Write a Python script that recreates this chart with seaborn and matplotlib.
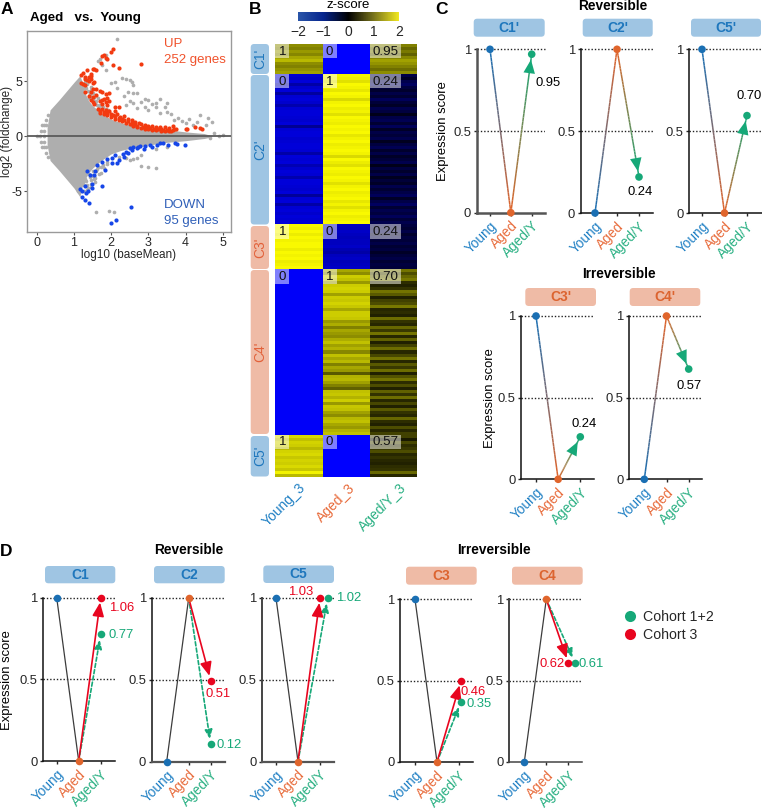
import numpy as np
import pandas as pd
import matplotlib
matplotlib.use("Agg")
import matplotlib.pyplot as plt
import seaborn as sns
from matplotlib.collections import LineCollection
from matplotlib.colors import LinearSegmentedColormap, to_rgb
from matplotlib.lines import Line2D
from matplotlib.patches import FancyBboxPatch, Rectangle

# ---------- panel A data ----------
cloud_x = [.28,.36,.6,.8,1.0,1.16,1.22,1.3,1.4,1.5,1.6,1.7,1.8,2,2.25,2.5,2.75,3,3.5,4,4.5,4.7]
cloud_upper = [.8,2.4,3.3,4.1,4.9,5.5,5.0,3.9,3.2,2.8,2.5,2.2,1.95,1.55,1.25,1.05,.88,.75,.6,.4,.25,.05]
cloud_lower = [-.8,-2.2,-3.1,-3.9,-4.7,-5.5,-4.6,-3.9,-3.3,-2.9,-2.6,-2.3,-2.05,-1.6,-1.3,-1.1,-.95,-.8,-.55,-.4,-.2,-.05]
gray_x = [2.17,1.65,1.7,1.85,1.85,1.75,2.3,2.4,2.5,2.55,2.6,2.0,2.1,2.15,2.45,2.6,2.7,2.35,2.9,3.0,3.2,3.3,3.1,3.5,3.45,3.2,2.5,2.6,2.8,2.9,2.7,2.4,3.0,3.3,3.5,3.6,3.8,3.9,4.0,4.1,4.4,4.6,4.7,3.7,4.2,4.3,4.55,4.75,5.0,4.9,4.65,
          2.8,3.0,3.2,2.5,2.6,2.7,2.8,2.4,1.55,1.6,1.95,2.07,3.2,3.5,1.9,2.2,
          0.0,0.1,0.2,0.12,0.2,0.15,0.2,0.25,0.12,0.2,0.15,0.2,0.25,0.25,0.3,0.3,0.25,1.3,1.45,1.55,1.25,1.35,1.1,1.5,1.3,1.6,1.45,1.55,
          1.28,1.33,1.38,1.42,1.48,1.52,1.58,1.62,1.68,1.72,1.3,1.35,1.4,1.45,1.5,1.55,1.6,1.65,1.7,1.78,1.85,1.92,
          1.28,1.33,1.38,1.42,1.47,1.52,1.57,1.62,1.67,1.72,1.78,1.28,1.34,1.4,1.46,1.52,1.58,1.65,1.72,1.8,1.88]
gray_y = [8.8,6.8,7.0,7.4,6.0,6.5,5.3,5.2,5.1,4.9,4.7,4.8,4.9,4.4,4.0,3.9,3.9,3.7,3.4,3.3,3.0,3.4,2.9,3.0,2.7,2.7,3.2,3.0,3.1,2.7,2.6,2.8,2.4,2.1,2.2,2.0,1.7,1.4,1.2,1.6,1.9,1.7,1.3,1.5,1.0,1.3,1.0,0.3,0.1,0.05,-0.2,
          -2.7,-2.8,-2.9,-2.2,-2.1,-2.0,-1.7,-2.0,-3.9,-6.9,-6.8,-6.9,-1.2,-1.0,-2.5,-1.9,
          0,0,0,.5,.5,1,1,1,-.5,-.5,-1,-1,-1,1.5,1.9,-1.9,-1.5,4.4,4.2,3.6,-4.2,-4.4,-5.0,-3.6,-3.9,-3.2,-4.0,-3.6,
          4.6,4.35,4.15,3.85,3.55,3.35,3.05,2.85,2.7,2.5,4.9,4.75,3.45,4.5,3.9,3.6,3.2,3.45,2.85,2.65,2.5,2.35,
          -4.4,-4.1,-4.7,-3.7,-4.3,-3.5,-3.8,-3.0,-3.4,-2.8,-2.6,-5.0,-4.85,-3.45,-4.6,-3.15,-4.15,-2.75,-3.3,-2.9,-2.3]
up_x = [2.05,2.0,1.8,1.75,1.85,1.72,1.88,2.05,2.2,2.8,
        1.2,1.25,1.3,1.35,1.45,1.5,1.55,1.6,1.4,1.45,1.3,1.35,1.4,1.45,1.2,1.25,1.3,1.5,1.55,
        1.3,1.45,1.5,1.6,1.7,1.75,1.4,1.5,1.6,1.85,1.95,1.45,1.5,1.55,1.7,1.75,1.8,1.9,1.85,1.95,1.75,1.9,2.1,2.2,2.1,
        1.65,1.7,1.75,1.8,1.85,1.9,1.95,2.0,2.05,2.1,2.15,2.2,2.25,2.3,1.7,1.8,1.9,2.0,2.1,2.2,2.3,2.35,2.4,2.45,2.5,2.55,2.6,2.65,
        2.35,2.45,2.55,2.65,2.7,2.75,2.8,2.85,2.9,2.95,3.0,3.05,3.1,3.15,3.2,3.25,3.3,2.6,2.7,2.8,2.9,3.0,3.1,3.2,
        3.35,3.4,3.45,3.5,3.55,3.6,3.65,3.7,3.75,3.35,3.45,3.55,3.65,4.0,4.05,4.25,4.4,4.45]
up_y = [7.95,7.7,7.35,7.3,7.1,6.7,7.0,6.5,6.2,6.55,
        5.6,5.75,5.4,6.0,5.7,6.15,6.1,6.0,5.4,5.5,5.2,5.1,5.0,5.25,4.8,4.75,4.7,4.85,4.9,
        4.0,4.05,4.3,4.3,4.1,4.0,3.7,3.6,3.75,3.8,3.9,3.3,3.1,2.95,3.2,3.3,3.4,3.5,3.1,3.2,2.9,2.8,2.7,2.7,2.3,
        2.5,2.3,2.45,2.2,2.4,2.1,2.3,2.0,1.9,1.85,2.0,1.7,1.75,1.6,2.1,2.0,1.9,1.75,1.6,1.5,1.35,1.8,1.25,1.6,1.1,1.45,1.05,1.3,
        1.5,1.4,1.25,1.15,0.95,1.2,1.1,0.85,1.05,0.8,0.95,0.75,0.9,0.7,0.85,0.65,0.8,0.95,0.85,0.75,0.65,0.65,0.6,0.55,
        0.7,0.55,0.85,0.6,0.75,0.5,0.9,0.65,0.7,0.5,0.45,0.45,0.55,0.65,0.7,0.8,0.75,0.7]
down_x = [1.16,1.21,1.21,1.3,1.33,1.39,1.3,1.4,1.48,1.48,1.75,1.36,1.42,1.57,1.61,1.54,1.84,1.75,1.88,2.02,2.1,2.02,2.15,2.22,2.31,2.35,2.4,2.46,2.51,2.6,2.69,2.78,2.87,2.91,3.05,3.09,3.23,3.3,3.4,3.54,3.72,3.76,3.99,2.55,2.73,2.54,2.0,2.12]
down_y = [-4.8,-5.0,-5.5,-4.5,-5.2,-5.0,-5.8,-6.1,-4.3,-4.7,-4.5,-3.2,-3.5,-3.2,-2.6,-3.5,-3.05,-2.3,-2.1,-2.0,-1.7,-2.45,-2.45,-2.15,-1.6,-1.85,-1.4,-1.55,-1.03,-0.95,-1.1,-0.85,-1.15,-0.85,-0.8,-0.95,-0.8,-0.65,-0.65,-0.8,-0.65,-0.7,-0.75,-1.25,-1.0,-6.4,-7.85,-7.6]

# ---------- panel B data (z-scores, five clusters, three columns) ----------
heat_columns = ["Young_3", "Aged_3", "Aged/Y_3"]
c1h_young = [1.1,1.0,1.2,1.05,1.3,1.45,1.1,1.0,1.15,1.25]
c1h_aged = [-2.0]*10
c1h_ay = [1.0,0.8,0.95,0.75,1.05,1.25,1.15,1.0,0.85,1.1]
c2h_young = [-1.65,-1.55,-1.7,-1.3,-1.6,-1.7,-1.25,-1.65,-1.7,-1.6,-1.35,-1.65,-1.7,-1.7,-1.65,-1.6,-1.7,-1.15,-1.65,-1.7,-1.7,-1.6,-1.65,-1.7,-1.7,-1.65,-1.3,-1.7,-1.65,-1.7,-1.4,-1.6,-1.7,-1.65,-1.35,-1.7,-1.7,-1.65,-1.6,-1.7,-1.2,-1.65,-1.7,-1.3,-1.65,-1.7,-1.6,-1.7,-1.65,-1.7]
c2h_aged = [1.9,1.85,1.75,1.95,1.9,1.8,1.95,1.9,1.7,1.9,1.95,1.85,1.9,1.75,1.95,1.9,1.85,1.95,1.9,1.95,1.8,1.9,1.95,1.85,1.9,1.95,1.9,1.7,1.95,1.85,1.75,1.95,1.9,1.85,1.95,1.9,1.75,1.9,1.95,1.85,1.9,1.95,1.8,1.9,1.75,1.9,1.95,1.85,1.9,1.95]
c2h_ay = [-.55,-.3,-.6,-.75,-.5,-.35,-.55,-.4,-.7,-.45,-.3,-.6,-.5,-.2,-.55,-.65,-.4,-.7,-.3,-.55,-.45,-.6,-.25,-.5,-.65,-.35,-.55,-.3,-.45,-.6,-.2,-.5,-.35,-.55,-.25,-.45,-.3,-.6,-.4,-.55,-.7,-.3,-.55,-.75,-.4,-.6,-.5,-.7,-.45,-.6]
c3h_young = [1.95,1.9,1.95,1.85,1.95,1.9,1.95,1.95,1.85,1.95,1.9,1.95,1.85,1.9,1.95]
c3h_aged = [-1.5,-1.45,-1.55,-1.5,-1.45,-1.5,-1.5,-1.55,-1.4,-1.3,-1.5,-1.55,-1.45,-1.5,-1.55]
c3h_ay = [-.5,-.4,-.55,-.35,-.5,-.45,-.55,-.4,-.5,-.3,-.45,-.55,-.4,-.5,-.45]
c4h_young = [-1.95]*55
c4h_aged = [1.3,1.1,1.6,1.5,1.2,1.6,1.65,1.6,1.25,1.6,1.55,1.65,1.55,1.3,1.6,1.6,1.55,1.2,1.35,1.0,1.3,1.2,1.1,1.35,1.5,1.25,1.4,1.05,1.5,1.3,1.45,1.0,1.3,1.2,0.7,1.4,1.45,1.25,1.0,0.75,1.5,1.55,1.4,1.6,1.2,1.55,1.5,1.25,1.1,1.45,1.5,1.3,1.2,1.4,1.5]
c4h_ay = [.9,.6,.8,.95,.35,.25,.4,.9,.7,.25,.5,.6,.95,.3,.35,.25,.85,.4,.3,.8,.45,.9,.3,.75,.25,.5,.85,.3,.55,.9,.3,.7,.45,.85,.25,.65,.9,.35,.6,.25,.75,.4,.85,.3,.55,.25,.7,.4,.3,.8,.35,.25,.6,.3,.5]
c5h_young = [1.7,1.5,1.65,1.6,1.45,1.65,1.7,1.55,1.65,1.6,1.7,1.55,1.9,1.45]
c5h_aged = [-2.0]*14
c5h_ay = [.5,.2,.55,.35,.45,.6,.3,.4,.3,.25,.35,.4,.8,.3]
cluster_names = ["C1'", "C2'", "C3'", "C4'", "C5'"]
cluster_annot = [["1","0","0.95"], ["0","1","0.24"], ["1","0","0.24"], ["0","1","0.70"], ["1","0","0.57"]]
cbar_ticks = [-2, -1, 0, 1, 2]

# ---------- panel C / D data ----------
stage_labels = ["Young", "Aged", "Aged/Y"]
score_c1 = [1, 0, 0.97]
score_c2 = [0, 1, 0.22]
score_c5 = [1, 0, 0.595]
score_c3 = [1, 0, 0.26]
score_c4 = [0, 1, 0.675]
base_d1 = [1, 0]
base_d2 = [0, 1]
base_d5 = [1, 0]
base_d3 = [1, 0]
base_d4 = [0, 1]
red_d = [1.0, 0.495, 1.0, 0.5, 0.61]
green_d = [0.775, 0.105, 1.0, 0.37, 0.61]
red_xpos = [2.0, 2.0, 2.0, 2.09, 2.0]
green_xpos = [2.0, 2.0, 2.35, 2.09, 2.3]

BLUE, ORANGE, GREEN, RED = "#1a6fb3", "#e0652c", "#16a878", "#e8051f"
BOX_BLUE, BOX_SALMON = "#9fc5e3", "#efbba6"
TXT_BLUE, TXT_ORANGE = "#1f77bd", "#dc6430"
TICK_COLORS = ["#2080c4", "#e86c3c", "#2ab083"]

W, H = 762, 809
sns.set_theme(style="ticks")
plt.rcParams["font.family"] = ["Liberation Sans", "DejaVu Sans"]
plt.rcParams["axes.unicode_minus"] = True
fig = plt.figure(figsize=(W / 100, H / 100), dpi=100, facecolor="white")


def add_ax(l, t, r, b):
    return fig.add_axes([l / W, 1 - b / H, (r - l) / W, (b - t) / H])


over = fig.add_axes([0, 0, 1, 1], zorder=20)
over.set_xlim(0, W)
over.set_ylim(H, 0)
over.axis("off")
over.patch.set_alpha(0)


def ptext(x, y, s, size=10, color="black", **kw):
    kw.setdefault("ha", "center")
    kw.setdefault("va", "center")
    over.text(x, y, s, fontsize=size, color=color, **kw)


def pill(l, t, r, b, face, label=None, color=None, vertical=False):
    over.add_patch(FancyBboxPatch((l + 2.5, t + 2.5), r - l - 5, b - t - 5,
                                  boxstyle="round,pad=2.5,rounding_size=3.5",
                                  facecolor=face, edgecolor="none"))
    if label:
        ptext((l + r) / 2, (t + b) / 2, label, size=10, color=color,
              rotation=90 if vertical else 0, fontweight="normal" if vertical else "bold")


# ---------- panel letters / titles ----------
for x, y, s in [(7, 9, "A"), (255, 9, "B"), (441, 9, "C"), (6, 551, "D")]:
    ptext(x, y, s, size=12.5, fontweight="bold")
ptext(30, 18, "Aged   vs.  Young", size=9.6, fontweight="bold", ha="left")
ptext(612.5, 6, "Reversible", size=9.8, fontweight="bold")
ptext(619, 274, "Irreversible", size=9.8, fontweight="bold")
ptext(188.5, 550, "Reversible", size=9.8, fontweight="bold")
ptext(494, 550, "Irreversible", size=9.8, fontweight="bold")

# ---------- panel A ----------
axA = add_ax(27, 31, 231, 232)
GRAY = "#aeaeae"
axA.fill_between(cloud_x, cloud_lower, cloud_upper, color=GRAY, lw=0, zorder=1)
sns.scatterplot(x=gray_x, y=gray_y, color=GRAY, s=7, linewidth=0, ax=axA, zorder=2)
sns.scatterplot(x=up_x, y=up_y, color="#f23a10", s=9, linewidth=0, ax=axA, zorder=3)
sns.scatterplot(x=down_x, y=down_y, color="#1646e8", s=9, linewidth=0, ax=axA, zorder=3)
axA.axhline(0, color="#5a5a5a", lw=1.3, zorder=4)
axA.set_xlim(-0.26, 5.22)
axA.set_ylim(-8.7, 9.57)
axA.set_xticks([0, 1, 2, 3, 4, 5])
axA.set_yticks([-5, 0, 5])
axA.set_yticklabels(["-5", "0", "5"])
axA.tick_params(labelsize=9, length=2.5, width=0.8, color="#555555", pad=1)
for s in axA.spines.values():
    s.set_color("#9a9a9a")
    s.set_linewidth(1.0)
axA.set_xlabel("log10 (baseMean)", fontsize=8.5, labelpad=0)
axA.set_ylabel("log2 (foldchange)", fontsize=8.5)
axA.yaxis.set_label_coords(-0.07, 0.5)
ptext(164, 44, "UP", size=9.5, color="#f0522c", ha="left")
ptext(164, 60, "252 genes", size=9.5, color="#f0522c", ha="left")
ptext(164, 205, "DOWN", size=9.5, color="#2f5fb8", ha="left")
ptext(164, 221, "95 genes", size=9.5, color="#2f5fb8", ha="left")

# ---------- panel B ----------
young = c1h_young + c2h_young + c3h_young + c4h_young + c5h_young
aged = c1h_aged + c2h_aged + c3h_aged + c4h_aged + c5h_aged
aged_y = c1h_ay + c2h_ay + c3h_ay + c4h_ay + c5h_ay
heat = pd.DataFrame({heat_columns[0]: young, heat_columns[1]: aged, heat_columns[2]: aged_y})
cmap = LinearSegmentedColormap.from_list("bky", ["#0000ff", "#000000", "#ffff00"])
bar_cmap = LinearSegmentedColormap.from_list("bar", ["#2a55a8", "#06258e", "#000000", "#77731c", "#efe620"])
axB = add_ax(275.3, 44, 417, 476.7)
axC = add_ax(298, 11.7, 398.7, 21)
sns.heatmap(heat, cmap=cmap, vmin=-2, vmax=2, ax=axB, cbar_ax=axC,
            cbar_kws={"orientation": "horizontal", "ticks": cbar_ticks}, yticklabels=False)
cb = axB.collections[0].colorbar
cb.solids.set_cmap(bar_cmap)
cb.outline.set_visible(False)
axC.tick_params(length=0, labelsize=10, pad=3)
ptext(348, 5, "z-score", size=9.5)
axB.set_xticks([0.48, 1.54, 2.62])
axB.set_xticklabels(heat_columns, rotation=45, ha="right", rotation_mode="anchor", fontsize=10)
axB.tick_params(axis="x", length=0, pad=3)
for lab, c in zip(axB.get_xticklabels(), TICK_COLORS):
    lab.set_color(c)
sizes = [len(c1h_young), len(c2h_young), len(c3h_young), len(c4h_young), len(c5h_young)]
px_row = (476.7 - 44) / len(young)
start = 0
pill_limits = [(44, 74), (75, 224.5), (226, 269), (270, 434), (436, 476.5)]
pill_faces = [BOX_BLUE, BOX_BLUE, BOX_SALMON, BOX_SALMON, BOX_BLUE]
pill_txt = [TXT_BLUE, TXT_BLUE, "#e2613a", "#e2613a", TXT_BLUE]
for name, n, ann, lim, f, tc in zip(cluster_names, sizes, cluster_annot, pill_limits, pill_faces, pill_txt):
    pill(250.7, lim[0], 269, lim[1], f, name, tc, vertical=True)
    for col, t in enumerate(ann):
        wid = (14 if len(t) == 1 else 31) / 47.2
        axB.add_patch(Rectangle((col, start), wid, 14.3 / px_row, facecolor="white", alpha=0.5, edgecolor="none"))
        axB.text(col + wid / 2, start + 7.6 / px_row, t, ha="center", va="center", fontsize=9.6, color="#111111")
    start += n


# ---------- small panels ----------
def grad_line(ax, p0, p1, c0, c1, lw=1.1):
    n = 40
    xs = np.linspace(p0[0], p1[0], n + 1)
    ys = np.linspace(p0[1], p1[1], n + 1)
    segs = np.stack([np.c_[xs[:-1], ys[:-1]], np.c_[xs[1:], ys[1:]]], axis=1)
    c0, c1 = np.array(to_rgb(c0)), np.array(to_rgb(c1))
    t = np.linspace(0, 1, n)[:, None]
    ax.add_collection(LineCollection(segs, colors=c0 * (1 - t) + c1 * t, linewidths=lw, zorder=3, clip_on=False))


def arrow(ax, p0, p1, color, ls="-", lw=1.4, shrink=3.5, scale=10, zorder=4):
    ax.annotate("", xy=p1, xytext=p0, annotation_clip=False, zorder=zorder,
                arrowprops=dict(arrowstyle="-|>,head_length=0.75,head_width=0.32", mutation_scale=scale,
                                shrinkA=0, shrinkB=shrink, color=color, lw=lw, ls=ls))


def base_axes(l, r, t, b, t0, t2, lw_left=1.1, lw_bot=1.1, c_left="#111111", c_bot="#111111"):
    ax = add_ax(l, t, r, b)
    s = (t2 - t0) / 2
    ax.set_xlim((l - t0) / s, (r - t0) / s)
    ax.set_ylim(0, 1)
    ax.patch.set_alpha(0)
    sns.despine(ax=ax)
    ax.spines["left"].set_linewidth(lw_left)
    ax.spines["bottom"].set_linewidth(lw_bot)
    ax.spines["left"].set_color(c_left)
    ax.spines["bottom"].set_color(c_bot)
    ax.axhline(0.5, color="#222222", lw=1.0, ls=(0, (1, 1.4)), zorder=1)
    ax.axhline(1.0, color="#222222", lw=1.0, ls=(0, (1, 1.4)), zorder=1, clip_on=False)
    ax.set_yticks([0, 0.5, 1])
    ax.set_yticklabels(["0", "0.5", "1"])
    ax.set_xticks([0, 1, 2])
    ax.set_xticklabels(stage_labels, rotation=45, ha="right", rotation_mode="anchor", fontsize=9.8)
    for lab, c in zip(ax.get_xticklabels(), TICK_COLORS):
        lab.set_color(c)
    ax.tick_params(axis="y", labelsize=9.4, length=2.5, width=1, pad=1.5)
    ax.tick_params(axis="x", length=2.5, width=1, pad=2)
    return ax


def panel_c(box, l, r, t, b, t0, t2, score, name, fc, tc, **kw):
    pill(box[0], box[1], box[2], box[3], fc, name, tc)
    ax = base_axes(l, r, t, b, t0, t2, **kw)
    grad_line(ax, (0, score[0]), (1, score[1]), BLUE, ORANGE)
    grad_line(ax, (1, score[1]), (2, score[2]), ORANGE, GREEN)
    arrow(ax, (1, score[1]), (2, score[2]), GREEN, lw=0, scale=13, shrink=4)
    sns.scatterplot(x=[0, 1, 2], y=score, hue=stage_labels, palette=[BLUE, ORANGE, GREEN], s=30, linewidth=0,
                    ax=ax, zorder=6, clip_on=False, legend=False)
    return ax


panel_c((473.7, 18.7, 544.7, 36.7), 476.7, 545, 49.3, 212.7, 490, 531.7, score_c1, "C1'", BOX_BLUE, TXT_BLUE,
        lw_left=1.8, lw_bot=1.8, c_left="#555555", c_bot="#555555")
panel_c((582.7, 18.7, 652.7, 36.7), 580.7, 653, 49.3, 213, 595, 639, score_c2, "C2'", BOX_BLUE, TXT_BLUE)
panel_c((691, 18.7, 761, 36.7), 689, 761.7, 49.3, 213, 702, 747, score_c5, "C5'", BOX_BLUE, TXT_BLUE)
panel_c((525.3, 288, 596, 306), 521, 594.3, 316, 479.3, 536, 580.3, score_c3, "C3'", BOX_SALMON, TXT_ORANGE)
panel_c((629.7, 288, 700.3, 306), 629, 702.3, 316, 479.3, 644.3, 688.7, score_c4, "C4'", BOX_SALMON, TXT_ORANGE)
for x, y, s in [(548, 83, "0.95"), (640, 192, "0.24"), (749, 96, "0.70"), (584, 424, "0.24"), (689, 386, "0.57")]:
    ptext(x, y, s, size=9.4)
ptext(443, 131, "Expression score", size=9.4, rotation=90)
ptext(490, 398, "Expression score", size=9.4, rotation=90)


def panel_d(i, box, l, r, t, b, t0, t2, base, name, fc, tc, **kw):
    pill(box[0], box[1], box[2], box[3], fc, name, tc)
    ax = base_axes(l, r, t, b, t0, t2, **kw)
    sns.lineplot(x=[0, 1], y=base, color="#3c3c3c", lw=0.9, ax=ax, zorder=3, clip_on=False)
    gx, gy, rx, ry = green_xpos[i], green_d[i], red_xpos[i], red_d[i]
    arrow(ax, (1, base[1]), (gx, gy), GREEN, ls=(0, (2.4, 1.4)), lw=1.2, scale=7, shrink=4, zorder=4)
    arrow(ax, (1, base[1]), (rx, ry), RED, lw=1.2, scale=11, shrink=3.5, zorder=5)
    sns.scatterplot(x=[0], y=[base[0]], color=BLUE, s=30, linewidth=0, ax=ax, zorder=6, clip_on=False, legend=False)
    sns.scatterplot(x=[gx], y=[gy], color=GREEN, s=30, linewidth=0, ax=ax, zorder=6, clip_on=False, legend=False)
    sns.scatterplot(x=[rx], y=[ry], color=RED, s=30, linewidth=0, ax=ax, zorder=7, clip_on=False, legend=False)
    sns.scatterplot(x=[1], y=[base[1]], color=ORANGE, s=30, linewidth=0, ax=ax, zorder=8, clip_on=False, legend=False)
    return ax


panel_d(0, (45, 566, 115.3, 583.3), 43, 115, 597.7, 761, 56.7, 100.7, base_d1, "C1", BOX_BLUE, TXT_BLUE)
panel_d(1, (154, 566, 224.7, 583.3), 151.7, 225, 598, 761.5, 166.7, 210.7, base_d2, "C2", BOX_BLUE, TXT_BLUE,
        lw_bot=1.6, c_bot="#555555")
panel_d(2, (263.3, 565.5, 334, 583), 262.3, 334, 598, 761.5, 276, 320, base_d5, "C5", BOX_BLUE, TXT_BLUE,
        c_left="#444444", lw_left=1.4, lw_bot=1.6, c_bot="#555555")
panel_d(3, (406, 566.7, 476.7, 584.7), 400, 472.7, 599.3, 762, 415, 459, base_d3, "C3", BOX_SALMON, TXT_ORANGE)
panel_d(4, (512, 566.7, 582.7, 584.7), 509.3, 582, 599.3, 762, 524.3, 568.3, base_d4, "C4", BOX_SALMON, TXT_ORANGE,
        c_left="#444444", lw_left=1.4, c_bot="#444444")
ptext(7, 680, "Expression score", size=9.4, rotation=90)
for x, y, s, c in [(121.7, 608, "1.06", RED), (121, 635, "0.77", GREEN),
                   (218, 694, "0.51", RED), (229, 745, "0.12", GREEN),
                   (301, 592, "1.03", RED), (349, 598, "1.02", GREEN),
                   (472.7, 691.7, "0.46", RED), (479, 704, "0.35", GREEN),
                   (552, 664, "0.62", RED), (591, 664, "0.61", GREEN)]:
    ptext(x, y, s, size=9.4, color=c)

handles = [Line2D([], [], marker="o", ls="", color=GREEN, ms=8, mew=0, label="Cohort 1+2"),
           Line2D([], [], marker="o", ls="", color=RED, ms=8, mew=0, label="Cohort 3")]
over.legend(handles=handles, loc="upper left", bbox_to_anchor=(622, 610), bbox_transform=over.transData,
            frameon=False, fontsize=10.2, borderpad=0, labelspacing=0.3, handletextpad=0.35,
            handlelength=1.1, borderaxespad=0)

fig.savefig("out.png", dpi=100, facecolor="white")
